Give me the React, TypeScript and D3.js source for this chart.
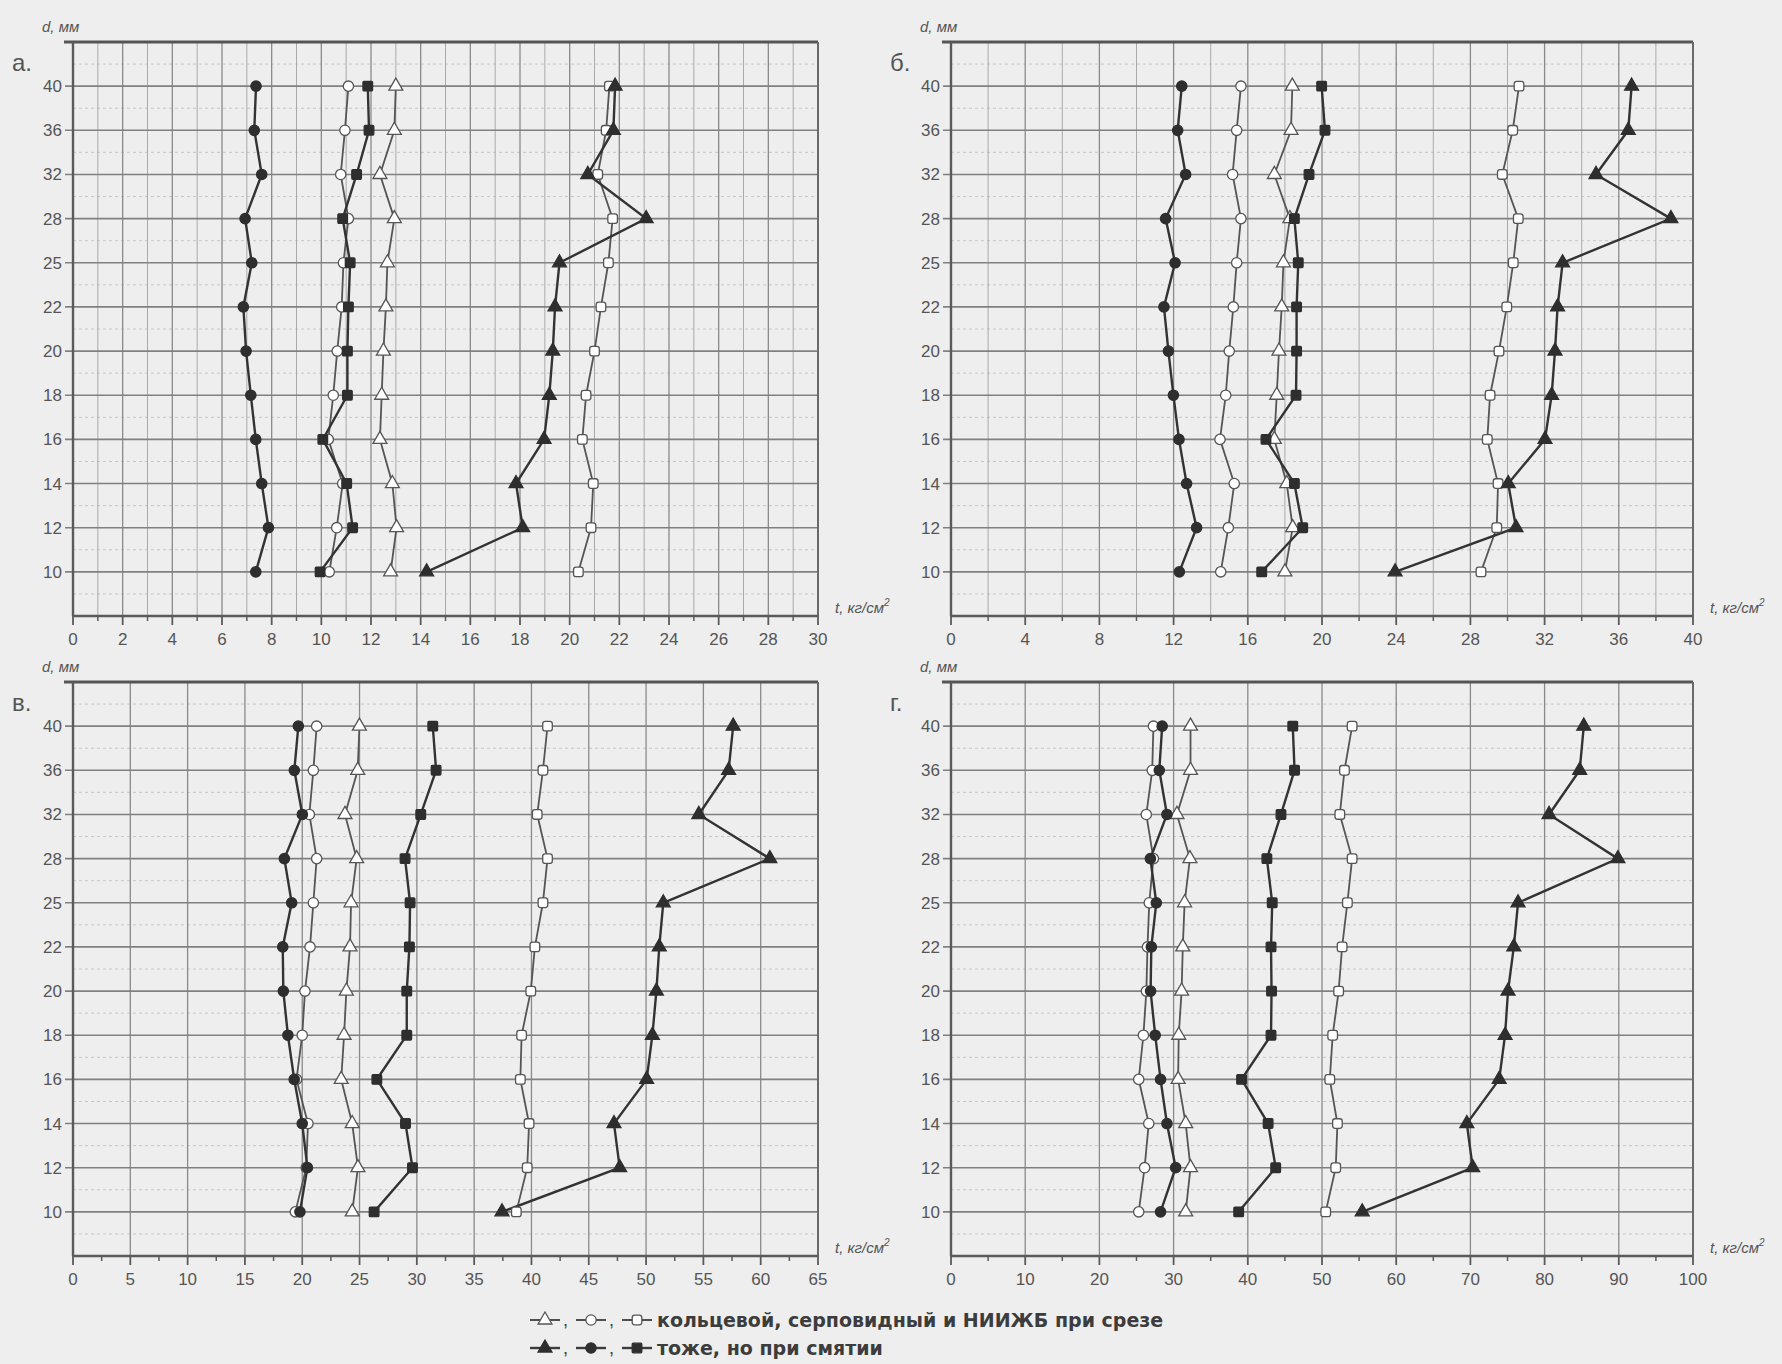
import React, { useEffect, useRef } from "react";
import * as d3 from "d3";

// диаметр арматуры, мм (ось d)
const dValues = [40, 36, 32, 28, 25, 22, 20, 18, 16, 14, 12, 10];

// а.
const aRingShear = [13.0, 12.94, 12.36, 12.94, 12.66, 12.6, 12.5, 12.43, 12.36, 12.86, 13.03, 12.79];
const aCrescentShear = [11.09, 10.95, 10.78, 11.09, 10.89, 10.82, 10.64, 10.48, 10.28, 10.86, 10.62, 10.32];
const aNiizhbShear = [21.6, 21.47, 21.13, 21.73, 21.56, 21.26, 21.0, 20.66, 20.51, 20.95, 20.86, 20.35];
const aRingCrush = [21.83, 21.76, 20.73, 23.08, 19.59, 19.41, 19.32, 19.18, 18.97, 17.84, 18.11, 14.24];
const aCrescentCrush = [7.37, 7.3, 7.6, 6.93, 7.2, 6.86, 6.97, 7.16, 7.36, 7.6, 7.87, 7.36];
const aNiizhbCrush = [11.87, 11.92, 11.42, 10.86, 11.16, 11.09, 11.05, 11.05, 10.06, 11.02, 11.26, 9.95];

// б.
const bRingShear = [18.4, 18.33, 17.43, 18.27, 17.92, 17.83, 17.68, 17.56, 17.43, 18.1, 18.42, 18.0];
const bCrescentShear = [15.63, 15.4, 15.18, 15.63, 15.4, 15.22, 15.0, 14.81, 14.5, 15.27, 14.95, 14.54];
const bNiizhbShear = [30.62, 30.28, 29.72, 30.58, 30.31, 29.96, 29.54, 29.06, 28.91, 29.49, 29.42, 28.57];
const bRingCrush = [36.69, 36.51, 34.77, 38.81, 32.97, 32.7, 32.56, 32.38, 32.02, 30.04, 30.46, 23.94];
const bCrescentCrush = [12.44, 12.22, 12.65, 11.57, 12.08, 11.48, 11.72, 11.99, 12.29, 12.7, 13.24, 12.31];
const bNiizhbCrush = [19.98, 20.16, 19.3, 18.51, 18.72, 18.63, 18.63, 18.6, 16.98, 18.51, 18.96, 16.75];

// в.
const vRingShear = [24.99, 24.84, 23.73, 24.75, 24.26, 24.17, 23.85, 23.65, 23.4, 24.36, 24.86, 24.36];
const vCrescentShear = [21.26, 20.97, 20.62, 21.26, 20.97, 20.68, 20.24, 20.0, 19.5, 20.5, 20.35, 19.4];
const vNiizhbShear = [41.4, 41.0, 40.5, 41.4, 41.0, 40.3, 39.94, 39.14, 39.03, 39.79, 39.63, 38.68];
const vRingCrush = [57.6, 57.2, 54.6, 60.8, 51.5, 51.15, 50.9, 50.55, 50.05, 47.2, 47.7, 37.43];
const vCrescentCrush = [19.66, 19.31, 20.01, 18.44, 19.08, 18.3, 18.35, 18.75, 19.3, 20.0, 20.45, 19.8];
const vNiizhbCrush = [31.39, 31.68, 30.34, 28.97, 29.41, 29.35, 29.12, 29.12, 26.51, 29.01, 29.62, 26.27];

// г.
const gRingShear = [32.28, 32.28, 30.45, 32.2, 31.48, 31.24, 31.08, 30.69, 30.61, 31.63, 32.28, 31.63];
const gCrescentShear = [27.28, 27.12, 26.32, 27.28, 26.72, 26.48, 26.33, 25.93, 25.3, 26.65, 26.09, 25.3];
const gNiizhbShear = [54.06, 53.03, 52.4, 54.06, 53.42, 52.71, 52.24, 51.44, 51.05, 52.08, 51.85, 50.5];
const gRingCrush = [85.28, 84.73, 80.6, 89.88, 76.42, 75.85, 75.07, 74.67, 73.88, 69.52, 70.31, 55.42];
const gCrescentCrush = [28.46, 28.07, 29.1, 26.87, 27.67, 27.0, 26.9, 27.52, 28.24, 29.1, 30.28, 28.24];
const gNiizhbCrush = [46.06, 46.3, 44.47, 42.57, 43.29, 43.13, 43.2, 43.13, 39.16, 42.74, 43.76, 38.77];

const legendRows = [
  { filled: false, text: "кольцевой, серповидный и НИИЖБ при срезе" },
  { filled: true, text: "тоже, но при смятии" },
];

const FONT = "'Liberation Sans', Arial, sans-serif";
const INK = "#3c3c3c";

function seriesOf(ring, cres, niizhb, ringC, cresC, niizhbC) {
  return [
    { shape: "triangle", filled: false, values: ring },
    { shape: "circle", filled: false, values: cres },
    { shape: "square", filled: false, values: niizhb },
    { shape: "square", filled: true, values: niizhbC },
    { shape: "circle", filled: true, values: cresC },
    { shape: "triangle", filled: true, values: ringC },
  ];
}

const panels = [
  { letter: "а.", left: 73, right: 818, top: 42, bottom: 616, xMax: 30, step: 2, minor: 1, minorGrid: true,
    series: seriesOf(aRingShear, aCrescentShear, aNiizhbShear, aRingCrush, aCrescentCrush, aNiizhbCrush) },
  { letter: "б.", left: 951, right: 1693, top: 42, bottom: 616, xMax: 40, step: 4, minor: 2, minorGrid: true,
    series: seriesOf(bRingShear, bCrescentShear, bNiizhbShear, bRingCrush, bCrescentCrush, bNiizhbCrush) },
  { letter: "в.", left: 73, right: 818, top: 682, bottom: 1256, xMax: 65, step: 5, minor: 2.5, minorGrid: false,
    series: seriesOf(vRingShear, vCrescentShear, vNiizhbShear, vRingCrush, vCrescentCrush, vNiizhbCrush) },
  { letter: "г.", left: 951, right: 1693, top: 682, bottom: 1256, xMax: 100, step: 10, minor: 5, minorGrid: false,
    series: seriesOf(gRingShear, gCrescentShear, gNiizhbShear, gRingCrush, gCrescentCrush, gNiizhbCrush) },
];

function drawMarker(g, shape, filled, cx, cy) {
  const fill = filled ? "#2e2e2e" : "#ffffff";
  const stroke = filled ? "#2e2e2e" : "#555";
  if (shape === "square") {
    // small squares, slightly rounded like the printed marks
    g.append("rect")
      .attr("x", cx - 4.8).attr("y", cy - 4.8).attr("width", 9.6).attr("height", 9.6)
      .attr("rx", filled ? 1 : 2.5)
      .attr("fill", fill).attr("stroke", stroke).attr("stroke-width", 1.3);
    return;
  }
  const type = shape === "triangle" ? d3.symbolTriangle : d3.symbolCircle;
  g.append("path")
    .attr("d", d3.symbol(type, 84)())
    .attr("transform", `translate(${cx},${cy})`)
    .attr("fill", fill)
    .attr("stroke", stroke)
    .attr("stroke-width", 1.3);
}

function App() {
  const svgRef = useRef(null);

  useEffect(() => {
    const svg = d3.select(svgRef.current);
    svg.selectAll("*").remove();

    svg.append("rect").attr("width", 1782).attr("height", 1364).attr("fill", "#eeeeee");

    panels.forEach((p) => {
      const g = svg.append("g");
      const x = d3.scaleLinear().domain([0, p.xMax]).range([p.left, p.right]);
      const y = d3.scalePoint().domain(dValues).range([p.top, p.bottom]).padding(1);
      const stepY = y.step();

      // faint dashed lines between rows
      d3.range(13).forEach((k) => {
        const yy = p.top + stepY * (k + 0.5);
        g.append("line")
          .attr("x1", p.left).attr("x2", p.right).attr("y1", yy).attr("y2", yy)
          .attr("stroke", "#c2c2c2").attr("stroke-width", 0.9).attr("stroke-dasharray", "3,3");
      });

      // minor vertical grid
      if (p.minorGrid) {
        d3.range(p.minor, p.xMax, p.step).forEach((v) => {
          g.append("line")
            .attr("x1", x(v)).attr("x2", x(v)).attr("y1", p.top).attr("y2", p.bottom)
            .attr("stroke", "#aaaaaa").attr("stroke-width", 1);
        });
      }

      // major vertical grid
      d3.range(p.step, p.xMax, p.step).forEach((v) => {
        g.append("line")
          .attr("x1", x(v)).attr("x2", x(v)).attr("y1", p.top).attr("y2", p.bottom)
          .attr("stroke", "#8a8a8a").attr("stroke-width", 1.3);
      });

      // horizontal grid at each d
      dValues.forEach((d) => {
        g.append("line")
          .attr("x1", p.left - 8).attr("x2", p.right).attr("y1", y(d)).attr("y2", y(d))
          .attr("stroke", "#808080").attr("stroke-width", 1.6);
        g.append("text")
          .attr("x", p.left - 11).attr("y", y(d) + 6)
          .attr("text-anchor", "end")
          .style("font-family", FONT).style("font-size", "17px").attr("fill", "#555")
          .text(d);
      });

      // frame
      g.append("line").attr("x1", p.left - 9).attr("x2", p.right).attr("y1", p.top).attr("y2", p.top)
        .attr("stroke", "#555").attr("stroke-width", 3.2);
      g.append("line").attr("x1", p.left).attr("x2", p.left).attr("y1", p.top).attr("y2", p.bottom)
        .attr("stroke", "#5a5a5a").attr("stroke-width", 2.4);
      g.append("line").attr("x1", p.right).attr("x2", p.right).attr("y1", p.top).attr("y2", p.bottom)
        .attr("stroke", "#6a6a6a").attr("stroke-width", 2);
      g.append("line").attr("x1", p.left).attr("x2", p.right).attr("y1", p.bottom).attr("y2", p.bottom)
        .attr("stroke", "#5a5a5a").attr("stroke-width", 2.4);

      // x ticks
      d3.range(p.minor, p.xMax, p.step).forEach((v) => {
        g.append("line").attr("x1", x(v)).attr("x2", x(v)).attr("y1", p.bottom).attr("y2", p.bottom + 5)
          .attr("stroke", "#5a5a5a").attr("stroke-width", 1.5);
      });
      d3.range(0, p.xMax + p.step / 2, p.step).forEach((v) => {
        g.append("line").attr("x1", x(v)).attr("x2", x(v)).attr("y1", p.bottom).attr("y2", p.bottom + 9)
          .attr("stroke", "#5a5a5a").attr("stroke-width", 1.8);
        g.append("text")
          .attr("x", x(v)).attr("y", p.bottom + 29)
          .attr("text-anchor", "middle")
          .style("font-family", FONT).style("font-size", "17px").attr("fill", "#555")
          .text(v);
      });

      // titles
      g.append("text")
        .attr("x", p.left - 31).attr("y", p.top - 10)
        .style("font-family", FONT).style("font-size", "15px").style("font-style", "italic").attr("fill", "#555")
        .text("d, мм");
      g.append("text")
        .attr("x", p.left - 61).attr("y", p.top + 29)
        .style("font-family", FONT).style("font-size", "24px").attr("fill", "#555")
        .text(p.letter);
      const xt = g.append("text")
        .attr("x", p.right + 17).attr("y", p.bottom - 3)
        .style("font-family", FONT).style("font-size", "15px").style("font-style", "italic").attr("fill", "#555");
      xt.append("tspan").text("t, кг/см");
      xt.append("tspan").attr("dy", -7).style("font-size", "10px").text("2");

      // series lines
      const line = d3.line().x((v) => x(v)).y((v, i) => y(dValues[i]));
      p.series.forEach((s) => {
        g.append("path")
          .attr("d", line(s.values))
          .attr("fill", "none")
          .attr("stroke", s.filled ? "#333" : "#555")
          .attr("stroke-width", s.filled ? 2.4 : 1.8);
      });
      // markers
      p.series.forEach((s) => {
        s.values.forEach((v, i) => drawMarker(g, s.shape, s.filled, x(v), y(dValues[i])));
      });
    });

    // legend
    const lg = svg.append("g");
    const legendY = [1320, 1348];
    const legendX = [545, 591, 637];
    const shapes = ["triangle", "circle", "square"];
    legendRows.forEach((row, r) => {
      const yy = legendY[r];
      shapes.forEach((shape, k) => {
        const cx = legendX[k];
        lg.append("line").attr("x1", cx - 15).attr("x2", cx + 15).attr("y1", yy).attr("y2", yy)
          .attr("stroke", INK).attr("stroke-width", row.filled ? 2.4 : 1.8);
        drawMarker(lg, shape, row.filled, cx, yy);
        if (k < 2) {
          lg.append("text").attr("x", cx + 18).attr("y", yy + 6)
            .style("font-family", FONT).style("font-size", "18px").attr("fill", INK).text(",");
        }
      });
      lg.append("text")
        .attr("x", 657).attr("y", yy + 7)
        .style("font-family", "'DejaVu Sans', sans-serif").style("font-size", "19px").style("font-weight", "bold").attr("fill", INK)
        .text(row.text);
    });
  }, []);

  return (
    <div>
      <svg ref={svgRef} width={1782} height={1364} style={{ position: "absolute", left: 0, top: 0 }}></svg>
    </div>
  );
}

export default App;
